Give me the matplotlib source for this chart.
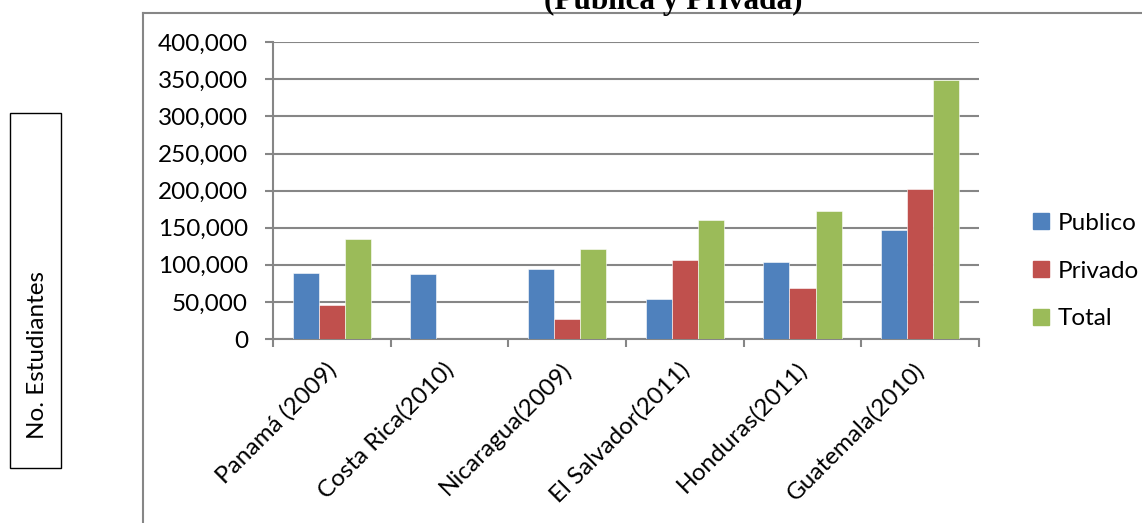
import matplotlib
matplotlib.use("Agg")
import matplotlib.pyplot as plt
import matplotlib.transforms as mtransforms
import numpy as np
from matplotlib.patches import Rectangle
from matplotlib.lines import Line2D

categories = ["Panamá (2009)", "Costa Rica(2010)", "Nicaragua(2009)",
              "El Salvador(2011)", "Honduras(2011)", "Guatemala(2010)"]
publico = [88500, 87500, 93900, 53900, 103300, 146400]
privado = [45800, 0, 27400, 106000, 68700, 202000]
total = [134700, 0, 121600, 159800, 172400, 349700]
series_names = ["Publico", "Privado", "Total"]
colors = ["#4F81BD", "#C0504D", "#9BBB59"]
yticks = [0, 50000, 100000, 150000, 200000, 250000, 300000, 350000, 400000]

W, H = 1142, 523
fig = plt.figure(figsize=(W / 100, H / 100), dpi=100)
plt.rcParams['font.family'] = ['Lato', 'DejaVu Sans']
fs = 17.5

def fx(px):
    return px / W

def fy(py):
    return 1 - py / H

# outer frame (left and top borders)
fig.add_artist(Line2D([fx(143), fx(143)], [fy(13), fy(523)], color="#868686", lw=1.5))
fig.add_artist(Line2D([fx(143), fx(1142)], [fy(13), fy(13)], color="#868686", lw=1.5))

# title (partly cut at the top edge)
fig.text(fx(673), fy(9.5), "(Publica y Privada)", ha="center", va="baseline",
         fontsize=22.5, fontweight="bold", family="Liberation Serif")

# y-label box
fig.add_artist(Rectangle((fx(10), fy(468)), fx(61) - fx(10), fy(113) - fy(468),
                         fill=False, edgecolor="black", lw=1))
fig.text(fx(38), fy(355), "No. Estudiantes", rotation=90, ha="center", va="center",
         fontsize=fs)

ax = fig.add_axes([fx(273), fy(339), fx(979) - fx(273), fy(42.3) - fy(339)])
x = np.arange(len(categories))
bw = 0.221
for i, (vals, name, c) in enumerate(zip([publico, privado, total], series_names, colors)):
    ax.bar(x + (i - 1) * bw, vals, bw, color=c, label=name, zorder=3,
           edgecolor="white", linewidth=0.4)

ax.set_xlim(-0.5, len(categories) - 0.5)
ax.set_ylim(0, 400000)
ax.set_yticks(yticks)
ax.set_yticklabels([f"{v:,}" for v in yticks], fontsize=fs)
ax.yaxis.grid(True, color="#868686", lw=1.5, zorder=0)
ax.set_axisbelow(True)
for s in ["top", "right"]:
    ax.spines[s].set_visible(False)
for s in ["left", "bottom"]:
    ax.spines[s].set_color("#868686")
    ax.spines[s].set_linewidth(1.5)
ax.tick_params(axis="y", length=5.5, width=1.5, color="#868686", pad=12.5)
ax.set_xticks(np.arange(len(categories) + 1) - 0.5)
ax.set_xticklabels([])
ax.tick_params(axis="x", length=5.5, width=1.5, color="#868686")

lab_tr = mtransforms.offset_copy(ax.get_xaxis_transform(), fig=fig,
                                 x=1, y=-27, units="dots")
for xi, lab in zip(x, categories):
    ax.text(xi, 0, lab, transform=lab_tr, rotation=45, ha="right", va="center",
            rotation_mode="anchor", fontsize=fs, clip_on=False)

handles = [Rectangle((0, 0), 1, 1, color=c) for c in colors]
fig.legend(handles, series_names, loc="center left",
           bbox_to_anchor=(fx(1021), fy(271)), frameon=False, fontsize=fs,
           handlelength=0.65, handleheight=0.65, handletextpad=0.35,
           labelspacing=1.1, borderpad=0)

fig.savefig("out.png", dpi=100)
